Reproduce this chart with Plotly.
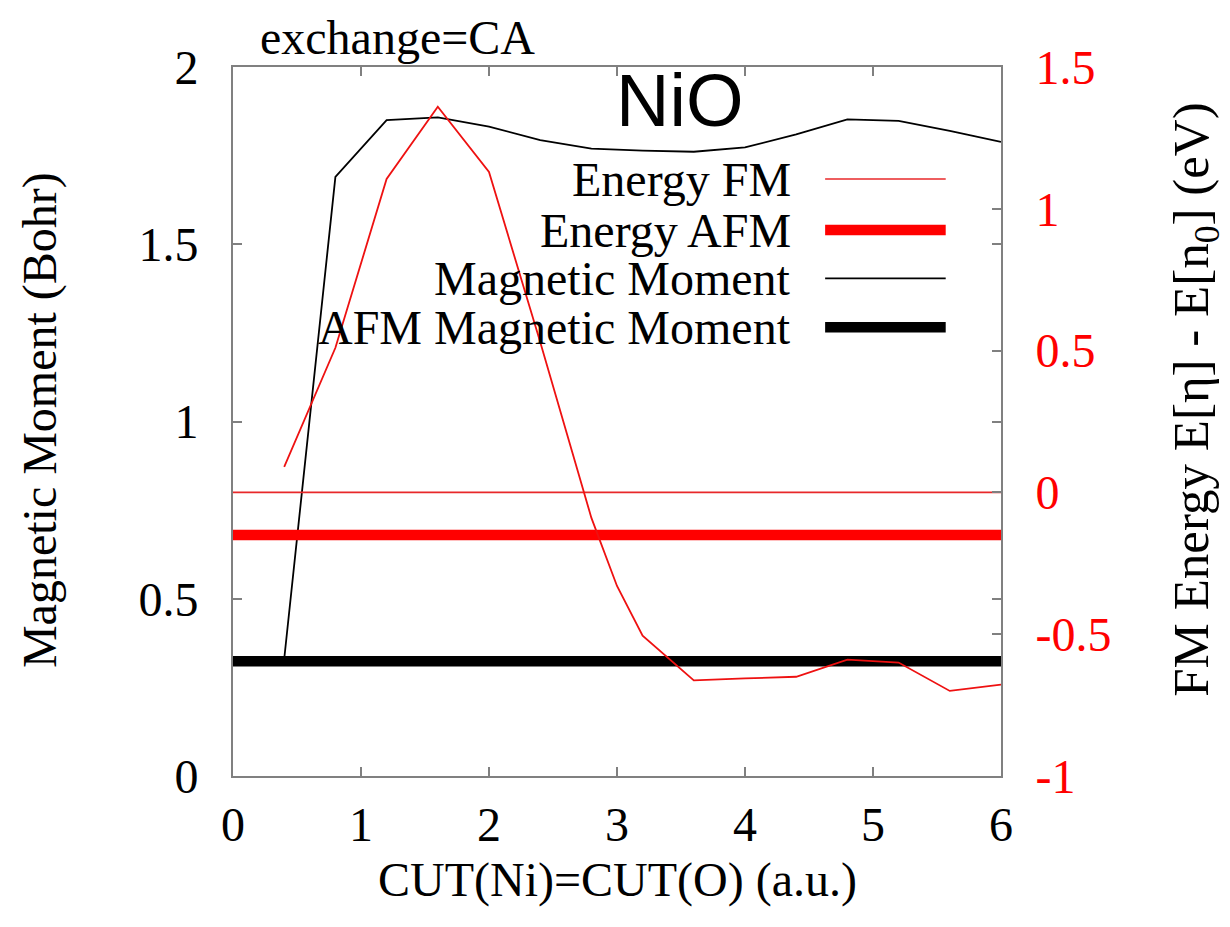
import plotly.graph_objects as go

# ---- data ----
cut_moment = [0.4, 0.8, 1.2, 1.6, 2.0, 2.4, 2.8, 3.2, 3.6, 4.0, 4.4, 4.8, 5.2, 5.6, 6.0]
moment = [0.33, 1.69, 1.85, 1.858, 1.832, 1.794, 1.77, 1.764, 1.761, 1.773, 1.81, 1.852, 1.848, 1.82, 1.789]

cut_energy = [0.4, 0.8, 1.2, 1.6, 2.0, 2.4, 2.8, 3.0, 3.2, 3.6, 4.0, 4.4, 4.8, 5.2, 5.6, 6.0]
energy_fm = [0.09, 0.51, 1.105, 1.36, 1.13, 0.53, -0.09, -0.33, -0.505, -0.663, -0.656, -0.65, -0.59, -0.60, -0.70, -0.678]

ref_x = [0, 6]
energy_fm_ref = [0.0, 0.0]
energy_afm = [-0.15, -0.15]
afm_moment = [0.3235, 0.3235]

legend_labels = ["Energy FM", "Energy AFM", "Magnetic Moment", "AFM Magnetic Moment"]

SERIF = "Liberation Serif"
GREY = "#808080"

fig = go.Figure()
fig.add_trace(go.Scatter(x=ref_x, y=energy_fm_ref, mode="lines", yaxis="y2",
                         line=dict(color="#e8282a", width=1.6), showlegend=False))
fig.add_trace(go.Scatter(x=ref_x, y=energy_afm, mode="lines", yaxis="y2",
                         line=dict(color="#ff0000", width=10.5), showlegend=False))
fig.add_trace(go.Scatter(x=ref_x, y=afm_moment, mode="lines", yaxis="y",
                         line=dict(color="#000000", width=10.5), showlegend=False))
fig.add_trace(go.Scatter(x=cut_moment, y=moment, mode="lines", yaxis="y",
                         line=dict(color="#000000", width=1.8), showlegend=False))
fig.add_trace(go.Scatter(x=cut_energy, y=energy_fm, mode="lines", yaxis="y2",
                         line=dict(color="#ee1111", width=1.8), showlegend=False))

axis_common = dict(showgrid=False, zeroline=False, showline=True, linecolor=GREY, linewidth=2,
                   ticks="inside", ticklen=9, tickwidth=1.5, tickcolor=GREY)

fig.update_layout(
    width=1230, height=927,
    margin=dict(l=233, r=229, t=67, b=151),
    paper_bgcolor="white", plot_bgcolor="white",
    font=dict(family=SERIF, size=48, color="black"),
    xaxis=dict(range=[0, 6], tickvals=[0, 1, 2, 3, 4, 5, 6], mirror="ticks",
               ticklabelstandoff=5, tickfont=dict(size=48), **axis_common),
    yaxis=dict(range=[0, 2], tickvals=[0, 0.5, 1, 1.5, 2], ticktext=["0", "0.5", "1", "1.5", "2"],
               mirror="ticks", ticklabelstandoff=23, tickfont=dict(size=48), **axis_common),
    yaxis2=dict(range=[-1, 1.5], tickvals=[-1, -0.5, 0, 0.5, 1, 1.5],
                ticktext=["-1", "-0.5", "0", "0.5", "1", "1.5"],
                overlaying="y", side="right", ticklabelstandoff=23,
                tickfont=dict(size=48, color="#ff0000"), **axis_common),
)

annotations = [
    dict(text="CUT(Ni)=CUT(O) (a.u.)", x=0.5, y=-0.147, xref="paper", yref="paper",
         xanchor="center", yanchor="middle", showarrow=False, font=dict(size=48)),
    dict(text="Magnetic Moment (Bohr)", x=-0.2513, y=0.502, xref="paper", yref="paper",
         xanchor="center", yanchor="middle", textangle=-90, showarrow=False, font=dict(size=48)),
    dict(text="FM Energy E[η] - E[n<sub>0</sub>] (eV)", x=1.2526, y=0.532, xref="paper", yref="paper",
         xanchor="center", yanchor="middle", textangle=-90, showarrow=False, font=dict(size=51)),
    dict(text="exchange=CA", x=0.0326, y=1.041, xref="paper", yref="paper",
         xanchor="left", yanchor="middle", showarrow=False, font=dict(size=48)),
    dict(text="NiO", x=0.582, y=0.953, xref="paper", yref="paper",
         xanchor="center", yanchor="middle", showarrow=False,
         font=dict(family="Liberation Sans", size=74)),
]

leg_y = [0.842, 0.770, 0.702, 0.633]
leg_style = [("#e8282a", 1.6), ("#ff0000", 10.5), ("#000000", 1.8), ("#000000", 10.5)]
shapes = []
for lab, yy, (col, w) in zip(legend_labels, leg_y, leg_style):
    annotations.append(dict(text=lab, x=0.729, y=yy, xref="paper", yref="paper",
                            xanchor="right", yanchor="middle", showarrow=False,
                            font=dict(size=48)))
    shapes.append(dict(type="line", xref="paper", yref="paper", x0=0.771, x1=0.928,
                       y0=yy, y1=yy, line=dict(color=col, width=w)))

fig.update_layout(annotations=annotations, shapes=shapes)
fig.write_html("out.html", config={"displayModeBar": False},
               post_script="document.body.style.margin='0';")
